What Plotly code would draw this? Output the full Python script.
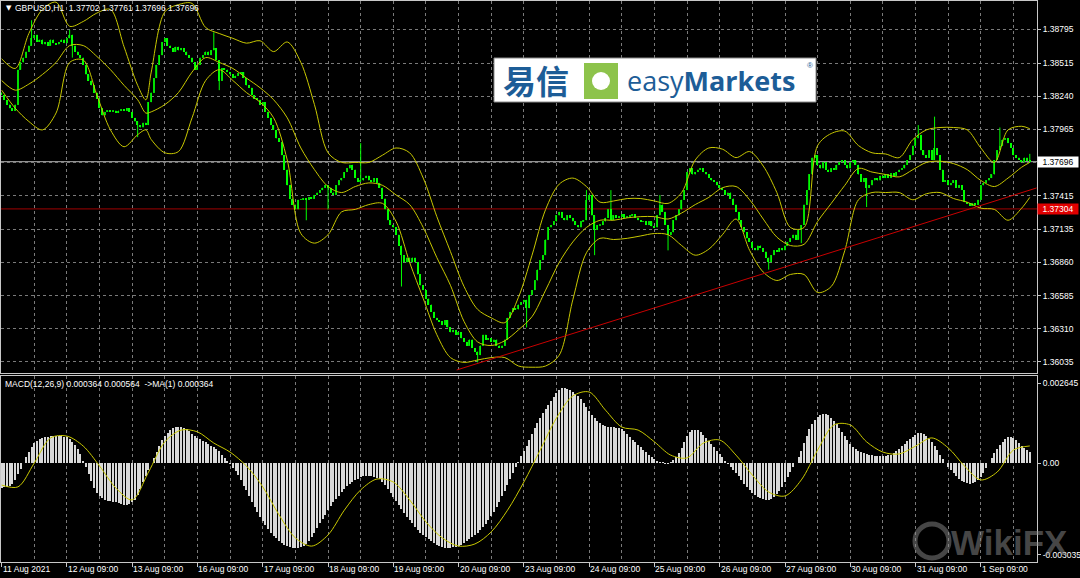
import plotly.graph_objects as go

# ---------------- data ----------------
symbol_title = "GBPUSD,H1  1.37702 1.37761 1.37696 1.37696"
macd_title = "MACD(12,26,9) 0.000364 0.000564  ->MA(1) 0.000364"

date_labels = ["11 Aug 2021", "12 Aug 09:00", "13 Aug 09:00", "16 Aug 09:00", "17 Aug 09:00",
               "18 Aug 09:00", "19 Aug 09:00", "20 Aug 09:00", "23 Aug 09:00", "24 Aug 09:00",
               "25 Aug 09:00", "26 Aug 09:00", "27 Aug 09:00", "30 Aug 09:00", "31 Aug 09:00",
               "1 Sep 09:00"]
label_bars = [0, 24, 48, 72, 96, 120, 144, 168, 192, 216, 240, 264, 288, 312, 336, 360]
half_day_bars = [12, 36, 60, 84, 108, 132, 156, 180, 204, 228, 252, 276, 300, 324, 348, 372]

first_open = 1.3827
closes = [
    1.3825, 1.3821, 1.3817, 1.3814, 1.3812, 1.3817, 1.3846, 1.3852, 1.3856, 1.3861,
    1.3866, 1.3872, 1.3875, 1.3869, 1.3871, 1.3867, 1.3869, 1.3866, 1.3871, 1.3868,
    1.3867, 1.3869, 1.3871, 1.3868, 1.3872, 1.3875, 1.3866, 1.3861, 1.3858, 1.3856,
    1.3850, 1.3842, 1.3837, 1.3833, 1.3827, 1.3822, 1.3814, 1.3808, 1.3811, 1.3812,
    1.3811, 1.3812, 1.3810, 1.3812, 1.3813, 1.3812, 1.3814, 1.3811, 1.3806, 1.3803,
    1.3800, 1.3798, 1.3802, 1.3800, 1.3819, 1.3827, 1.3839, 1.3850, 1.3858, 1.3869,
    1.3872, 1.3866, 1.3864, 1.3861, 1.3865, 1.3862, 1.3864, 1.3861, 1.3858, 1.3856,
    1.3852, 1.3846, 1.3850, 1.3856, 1.3858, 1.3861, 1.3858, 1.3862, 1.3864, 1.3854,
    1.3837, 1.3847, 1.3846, 1.3844, 1.3842, 1.3839, 1.3841, 1.3843, 1.3844, 1.3839,
    1.3833, 1.3831, 1.3825, 1.3822, 1.3821, 1.3817, 1.3819, 1.3811, 1.3806, 1.3800,
    1.3796, 1.3789, 1.3786, 1.3775, 1.3763, 1.3750, 1.3739, 1.3734, 1.3730, 1.3738,
    1.3738, 1.3739, 1.3738, 1.3740, 1.3739, 1.3742, 1.3744, 1.3746, 1.3748, 1.3750,
    1.3748, 1.3744, 1.3742, 1.3750, 1.3754, 1.3756, 1.3761, 1.3764, 1.3767, 1.3763,
    1.3756, 1.3753, 1.3754, 1.3756, 1.3758, 1.3754, 1.3753, 1.3756, 1.3752, 1.3748,
    1.3739, 1.3730, 1.3721, 1.3717, 1.3715, 1.3709, 1.3700, 1.3692, 1.3686, 1.3690,
    1.3686, 1.3690, 1.3686, 1.3676, 1.3667, 1.3663, 1.3656, 1.3651, 1.3645, 1.3640,
    1.3638, 1.3637, 1.3634, 1.3638, 1.3632, 1.3628, 1.3630, 1.3626, 1.3628, 1.3623,
    1.3620, 1.3617, 1.3622, 1.3615, 1.3612, 1.3609, 1.3617, 1.3626, 1.3622, 1.3623,
    1.3620, 1.3622, 1.3617, 1.3615, 1.3617, 1.3622, 1.3640, 1.3645, 1.3648, 1.3647,
    1.3651, 1.3653, 1.3655, 1.3648, 1.3659, 1.3663, 1.3671, 1.3680, 1.3688, 1.3692,
    1.3705, 1.3715, 1.3717, 1.3720, 1.3725, 1.3728, 1.3723, 1.3721, 1.3725, 1.3723,
    1.3720, 1.3717, 1.3715, 1.3720, 1.3721, 1.3738, 1.3742, 1.3725, 1.3713, 1.3717,
    1.3717, 1.3720, 1.3723, 1.3730, 1.3721, 1.3725, 1.3723, 1.3724, 1.3726, 1.3723,
    1.3724, 1.3725, 1.3726, 1.3723, 1.3721, 1.3720, 1.3720, 1.3717, 1.3720, 1.3716,
    1.3715, 1.3725, 1.3734, 1.3728, 1.3717, 1.3709, 1.3711, 1.3721, 1.3725, 1.3730,
    1.3738, 1.3746, 1.3761, 1.3764, 1.3759, 1.3761, 1.3763, 1.3764, 1.3761, 1.3759,
    1.3756, 1.3754, 1.3753, 1.3750, 1.3748, 1.3746, 1.3742, 1.3744, 1.3739, 1.3734,
    1.3728, 1.3721, 1.3715, 1.3711, 1.3706, 1.3703, 1.3698, 1.3696, 1.3700, 1.3698,
    1.3695, 1.3690, 1.3686, 1.3692, 1.3696, 1.3695, 1.3698, 1.3696, 1.3700, 1.3703,
    1.3706, 1.3709, 1.3705, 1.3713, 1.3717, 1.3734, 1.3746, 1.3759, 1.3773, 1.3775,
    1.3767, 1.3764, 1.3769, 1.3763, 1.3761, 1.3764, 1.3763, 1.3767, 1.3769, 1.3771,
    1.3767, 1.3764, 1.3769, 1.3771, 1.3767, 1.3759, 1.3753, 1.3756, 1.3748, 1.3750,
    1.3754, 1.3756, 1.3754, 1.3758, 1.3756, 1.3759, 1.3756, 1.3760, 1.3758, 1.3761,
    1.3763, 1.3764, 1.3767, 1.3771, 1.3775, 1.3783, 1.3789, 1.3792, 1.3779, 1.3775,
    1.3773, 1.3779, 1.3771, 1.3781, 1.3775, 1.3763, 1.3753, 1.3754, 1.3750, 1.3752,
    1.3754, 1.3748, 1.3750, 1.3746, 1.3736, 1.3735, 1.3733, 1.3735, 1.3734, 1.3738,
    1.3750, 1.3752, 1.3754, 1.3756, 1.3759, 1.3771, 1.3779, 1.3783, 1.3788, 1.3789,
    1.3785, 1.3781, 1.3775, 1.3773, 1.3771, 1.3769, 1.3773, 1.37702, 1.37696,
]
wick_high = {11: 1.3887, 25: 1.3879, 78: 1.3877, 132: 1.3785, 215: 1.3746, 224: 1.3746,
             242: 1.3742, 337: 1.3800, 343: 1.3807, 367: 1.3798, 378: 1.37761}
wick_low = {26: 1.3856, 50: 1.3790, 80: 1.3829, 112: 1.3721, 120: 1.3730, 147: 1.3666,
            175: 1.3603, 193: 1.3632, 218: 1.3692, 245: 1.3696, 282: 1.3680, 294: 1.3702,
            318: 1.3732}

band_bars = [0, 5, 10, 15, 20, 25, 30, 35, 40, 45, 50, 53, 55, 60, 65, 70, 75, 80, 85, 90,
             95, 100, 105, 110, 115, 120, 125, 130, 135, 140, 145, 150, 155, 160, 165, 170,
             175, 180, 185, 190, 195, 200, 205, 210, 215, 220, 225, 230, 235, 240, 245, 250,
             255, 260, 265, 270, 275, 280, 285, 290, 295, 300, 305, 310, 315, 320, 325, 330,
             335, 340, 345, 350, 355, 360, 365, 370, 375, 378]
bb_upper = [1.3855, 1.3847, 1.3876, 1.3896, 1.3902, 1.3882, 1.3886, 1.3893, 1.3896, 1.3865,
            1.3833, 1.3821, 1.3844, 1.3894, 1.3900, 1.3901, 1.3881, 1.3876, 1.3872, 1.3868,
            1.3870, 1.3861, 1.3869, 1.3852, 1.3817, 1.3777, 1.3769, 1.3769, 1.3769, 1.3775,
            1.3781, 1.3777, 1.3756, 1.3724, 1.3695, 1.3666, 1.3647, 1.3640, 1.3636, 1.3657,
            1.3692, 1.3730, 1.3751, 1.3756, 1.3749, 1.3736, 1.3737, 1.3739, 1.3739, 1.3737,
            1.3735, 1.3744, 1.3771, 1.3781, 1.3780, 1.3773, 1.3778, 1.3766, 1.3744, 1.3715,
            1.3715, 1.3783, 1.3793, 1.3795, 1.3783, 1.3777, 1.3776, 1.3773, 1.3788, 1.3796,
            1.3798, 1.3798, 1.3796, 1.3781, 1.3769, 1.3796, 1.3799, 1.3797]
bb_middle = [1.3837, 1.3829, 1.3834, 1.3842, 1.3852, 1.3866, 1.3866, 1.3857, 1.3846, 1.3833,
             1.3821, 1.3810, 1.3811, 1.3817, 1.3827, 1.3844, 1.3856, 1.3852, 1.3847, 1.3839,
             1.3831, 1.3821, 1.3806, 1.3781, 1.3763, 1.3749, 1.3744, 1.3749, 1.3752, 1.3750,
             1.3742, 1.3734, 1.3715, 1.3690, 1.3667, 1.3637, 1.3620, 1.3617, 1.3621, 1.3630,
             1.3641, 1.3663, 1.3686, 1.3703, 1.3715, 1.3721, 1.3721, 1.3723, 1.3724, 1.3724,
             1.3722, 1.3727, 1.3734, 1.3740, 1.3748, 1.3749, 1.3738, 1.3722, 1.3707, 1.3700,
             1.3701, 1.3720, 1.3735, 1.3750, 1.3764, 1.3761, 1.3759, 1.3757, 1.3763, 1.3769,
             1.3770, 1.3768, 1.3763, 1.3754, 1.3749, 1.3756, 1.3765, 1.3769]
bb_lower = [1.3829, 1.3814, 1.3803, 1.3796, 1.3810, 1.3852, 1.3854, 1.3825, 1.3796, 1.3782,
            1.3792, 1.3796, 1.3788, 1.3777, 1.3778, 1.3806, 1.3837, 1.3846, 1.3837, 1.3827,
            1.3819, 1.3806, 1.3771, 1.3710, 1.3702, 1.3709, 1.3728, 1.3730, 1.3734, 1.3735,
            1.3720, 1.3686, 1.3656, 1.3626, 1.3607, 1.3603, 1.3605, 1.3607, 1.3607, 1.3600,
            1.3599, 1.3600, 1.3609, 1.3655, 1.3694, 1.3706, 1.3705, 1.3706, 1.3708, 1.3710,
            1.3709, 1.3700, 1.3692, 1.3697, 1.3709, 1.3722, 1.3696, 1.3678, 1.3671, 1.3676,
            1.3676, 1.3661, 1.3666, 1.3696, 1.3738, 1.3744, 1.3744, 1.3744, 1.3738, 1.3743,
            1.3744, 1.3739, 1.3736, 1.3731, 1.3730, 1.3721, 1.3731, 1.3740]

macd_main = [
    -0.00083, -0.00079, -0.00079, -0.00076, -0.00070, -0.00056, -0.00036, -0.00020, 0.00000, 0.00020,
    0.00036, 0.00053, 0.00066, 0.00073, 0.00079, 0.00083, 0.00086, 0.00086, 0.00089, 0.00089,
    0.00089, 0.00089, 0.00089, 0.00086, 0.00086, 0.00079, 0.00070, 0.00060, 0.00046, 0.00030,
    0.00007, -0.00013, -0.00036, -0.00060, -0.00083, -0.00099, -0.00109, -0.00116, -0.00122, -0.00126,
    -0.00126, -0.00129, -0.00129, -0.00132, -0.00136, -0.00139, -0.00139, -0.00136, -0.00129, -0.00122,
    -0.00106, -0.00086, -0.00063, -0.00043, -0.00023, 0.00000, 0.00017, 0.00036, 0.00056, 0.00076,
    0.00089, 0.00099, 0.00109, 0.00116, 0.00119, 0.00119, 0.00119, 0.00116, 0.00113, 0.00106,
    0.00096, 0.00089, 0.00083, 0.00079, 0.00073, 0.00070, 0.00063, 0.00056, 0.00053, 0.00046,
    0.00040, 0.00026, 0.00017, 0.00007, -0.00003, -0.00017, -0.00026, -0.00040, -0.00056, -0.00076,
    -0.00089, -0.00109, -0.00129, -0.00146, -0.00162, -0.00179, -0.00192, -0.00205, -0.00218, -0.00232,
    -0.00242, -0.00248, -0.00258, -0.00265, -0.00271, -0.00275, -0.00278, -0.00281, -0.00281, -0.00281,
    -0.00278, -0.00275, -0.00268, -0.00258, -0.00245, -0.00232, -0.00215, -0.00199, -0.00185, -0.00172,
    -0.00156, -0.00142, -0.00129, -0.00119, -0.00109, -0.00096, -0.00086, -0.00076, -0.00070, -0.00063,
    -0.00056, -0.00053, -0.00046, -0.00043, -0.00043, -0.00043, -0.00043, -0.00046, -0.00050, -0.00053,
    -0.00063, -0.00073, -0.00086, -0.00099, -0.00113, -0.00126, -0.00139, -0.00152, -0.00166, -0.00179,
    -0.00189, -0.00199, -0.00212, -0.00222, -0.00232, -0.00238, -0.00245, -0.00252, -0.00258, -0.00265,
    -0.00271, -0.00275, -0.00278, -0.00281, -0.00281, -0.00281, -0.00278, -0.00278, -0.00275, -0.00271,
    -0.00265, -0.00258, -0.00252, -0.00245, -0.00238, -0.00232, -0.00222, -0.00212, -0.00202, -0.00189,
    -0.00175, -0.00162, -0.00146, -0.00129, -0.00109, -0.00093, -0.00073, -0.00053, -0.00033, -0.00013,
    0.00003, 0.00023, 0.00040, 0.00056, 0.00076, 0.00096, 0.00116, 0.00132, 0.00149, 0.00166,
    0.00179, 0.00192, 0.00205, 0.00218, 0.00232, 0.00242, 0.00248, 0.00248, 0.00245, 0.00242,
    0.00235, 0.00228, 0.00222, 0.00212, 0.00199, 0.00185, 0.00172, 0.00159, 0.00149, 0.00139,
    0.00132, 0.00126, 0.00122, 0.00119, 0.00119, 0.00119, 0.00116, 0.00116, 0.00113, 0.00106,
    0.00096, 0.00086, 0.00076, 0.00070, 0.00060, 0.00053, 0.00043, 0.00036, 0.00026, 0.00020,
    0.00013, 0.00007, 0.00003, 0.00001, -0.00001, -0.00001, 0.00003, 0.00010, 0.00020, 0.00033,
    0.00050, 0.00070, 0.00089, 0.00103, 0.00109, 0.00109, 0.00109, 0.00103, 0.00093, 0.00083,
    0.00073, 0.00063, 0.00053, 0.00040, 0.00030, 0.00020, 0.00007, -0.00003, -0.00013, -0.00023,
    -0.00033, -0.00043, -0.00056, -0.00070, -0.00079, -0.00089, -0.00099, -0.00106, -0.00113, -0.00116,
    -0.00119, -0.00122, -0.00122, -0.00119, -0.00113, -0.00103, -0.00093, -0.00079, -0.00063, -0.00046,
    -0.00030, -0.00013, 0.00000, 0.00020, 0.00040, 0.00066, 0.00089, 0.00113, 0.00129, 0.00142,
    0.00152, 0.00159, 0.00162, 0.00162, 0.00159, 0.00149, 0.00139, 0.00129, 0.00116, 0.00103,
    0.00089, 0.00076, 0.00063, 0.00053, 0.00046, 0.00040, 0.00036, 0.00033, 0.00030, 0.00026,
    0.00026, 0.00023, 0.00023, 0.00023, 0.00023, 0.00023, 0.00026, 0.00026, 0.00033, 0.00040,
    0.00046, 0.00056, 0.00063, 0.00073, 0.00079, 0.00086, 0.00093, 0.00099, 0.00099, 0.00096,
    0.00089, 0.00079, 0.00070, 0.00056, 0.00043, 0.00026, 0.00013, 0.00000, -0.00013, -0.00023,
    -0.00033, -0.00043, -0.00053, -0.00060, -0.00063, -0.00066, -0.00070, -0.00066, -0.00063, -0.00056,
    -0.00046, -0.00033, -0.00017, 0.00000, 0.00017, 0.00033, 0.00046, 0.00060, 0.00070, 0.00079,
    0.00086, 0.00086, 0.00083, 0.00076, 0.00066, 0.00056, 0.00050, 0.00043, 0.000364,
]
signal_bars = [0, 6, 12, 18, 24, 30, 36, 42, 48, 54, 60, 66, 72, 78, 84, 90, 96, 102, 108, 114,
               120, 126, 132, 138, 144, 150, 156, 162, 168, 174, 180, 186, 192, 198, 204, 210,
               216, 222, 228, 234, 240, 246, 252, 258, 264, 270, 276, 282, 288, 294, 300, 306,
               312, 318, 324, 330, 336, 342, 348, 354, 360, 366, 372, 378]
macd_signal = [
    -0.00073, -0.00079, 0.00000, 0.00083, 0.00089, 0.00056, -0.00010, -0.00083, -0.00122, -0.00030,
    0.00070, 0.00109, 0.00103, 0.00066, 0.00036, -0.00010, -0.00079, -0.00172, -0.00248, -0.00275,
    -0.00238, -0.00156, -0.00089, -0.00053, -0.00063, -0.00122, -0.00195, -0.00248, -0.00275, -0.00268,
    -0.00228, -0.00156, -0.00063, 0.00043, 0.00149, 0.00222, 0.00235, 0.00175, 0.00119, 0.00109,
    0.00070, 0.00026, 0.00017, 0.00066, 0.00076, 0.00026, -0.00040, -0.00096, -0.00109, -0.00056,
    0.00043, 0.00126, 0.00126, 0.00070, 0.00036, 0.00030, 0.00056, 0.00083, 0.00050, -0.00010,
    -0.00056, -0.00030, 0.00043, 0.000564,
]

price_ticks = [1.38795, 1.38515, 1.38240, 1.37965, 1.37690, 1.37415, 1.37135, 1.36860,
               1.36585, 1.36310, 1.36035]
price_tick_text = ["1.38795", "1.38515", "1.38240", "1.37965", "", "1.37415", "1.37135",
                   "1.36860", "1.36585", "1.36310", "1.36035"]
macd_ticks = [0.002645, 0.0, -0.003035]
macd_tick_text = ["0.002645", "0.00", "-0.003035"]

last_price = 1.37696
alert_level = 1.37304
trend_bars = [167.3, 380.5]
trend_prices = [1.35967, 1.37478]

# ---------------- derived OHLC ----------------
bars = list(range(len(closes)))
opens = [first_open] + closes[:-1]
highs = [max(o, c) for o, c in zip(opens, closes)]
lows = [min(o, c) for o, c in zip(opens, closes)]
for k, v in wick_high.items():
    highs[k] = max(highs[k], v)
for k, v in wick_low.items():
    lows[k] = min(lows[k], v)

body_base = [min(o, c) for o, c in zip(opens, closes)]
body_len = [max(abs(c - o), 0.000012) for o, c in zip(opens, closes)]
body_col = ["#00c000" if c >= o else "#00ff00" for o, c in zip(opens, closes)]
wick_x, wick_y = [], []
for b, lo, hi in zip(bars, lows, highs):
    wick_x += [b, b, None]
    wick_y += [lo, hi, None]

# ---------------- layout geometry ----------------
W, H = 1080, 578
ML, MR, MT, MB = 1, 43, 1, 16
PW, PH = W - ML - MR, H - MT - MB


def px(x):
    return (x - ML) / PW


def py(y):
    return (H - MB - y) / PH


GRID = "#7a7a7a"
FRAME = "#c8c8c8"
YEL = "#c8c800"
FONT = "Liberation Sans"

fig = go.Figure()
fig.add_trace(go.Scatter(x=wick_x, y=wick_y, mode="lines", line=dict(color="#00ff00", width=1),
                         xaxis="x", yaxis="y", showlegend=False, hoverinfo="skip"))
fig.add_trace(go.Bar(x=bars, y=body_len, base=body_base, width=0.55,
                     marker=dict(color=body_col, line=dict(width=0)),
                     xaxis="x", yaxis="y", showlegend=False, hoverinfo="skip"))
for band in (bb_upper, bb_middle, bb_lower):
    fig.add_trace(go.Scatter(x=band_bars, y=band, mode="lines",
                             line=dict(color=YEL, width=1, shape="spline", smoothing=0.9),
                             xaxis="x", yaxis="y", showlegend=False, hoverinfo="skip"))
fig.add_trace(go.Scatter(x=trend_bars, y=trend_prices, mode="lines",
                         line=dict(color="#c80000", width=1), xaxis="x", yaxis="y",
                         showlegend=False, hoverinfo="skip"))
fig.add_trace(go.Bar(x=bars, y=macd_main, width=0.42,
                     marker=dict(color="#d8d8d8", line=dict(width=0)),
                     xaxis="x2", yaxis="y2", showlegend=False, hoverinfo="skip"))
fig.add_trace(go.Scatter(x=signal_bars, y=macd_signal, mode="lines",
                         line=dict(color=YEL, width=1, shape="spline", smoothing=0.9),
                         xaxis="x2", yaxis="y2", showlegend=False, hoverinfo="skip"))

xrange_ = [-0.24, 380.65]
main_dom = [py(373), 1.0]
macd_dom = [0.0, py(376)]
main_range = [1.35942, 1.39030]
macd_range = [-0.003277, 0.0028797]

xcommon = dict(range=xrange_, tickmode="array", tickvals=label_bars, showgrid=True,
               gridcolor=GRID, griddash="dot", gridwidth=1, zeroline=False,
               showline=True, linecolor=FRAME, linewidth=1, mirror=True,
               minor=dict(tickmode="array", tickvals=half_day_bars, showgrid=True,
                          gridcolor=GRID, griddash="dot", gridwidth=1, ticks=""),
               fixedrange=True, automargin=False)

fig.update_layout(
    width=W, height=H, margin=dict(l=ML, r=MR, t=MT, b=MB, pad=0),
    paper_bgcolor="black", plot_bgcolor="black", showlegend=False, hovermode=False,
    bargap=0, barmode="overlay",
    xaxis=dict(**xcommon, anchor="y", showticklabels=False, ticks=""),
    xaxis2=dict(**xcommon, anchor="y2", matches="x", showticklabels=False,
                ticks="outside", ticklen=4, tickcolor=FRAME),
    yaxis=dict(domain=main_dom, range=main_range, side="right", tickmode="array",
               tickvals=price_ticks, ticktext=price_tick_text, showgrid=True,
               gridcolor=GRID, griddash="dot", zeroline=False, showline=True,
               linecolor=FRAME, mirror=True, ticks="outside", ticklen=3, tickcolor=FRAME,
               tickfont=dict(color="white", size=8.5, family=FONT), fixedrange=True,
               automargin=False),
    yaxis2=dict(domain=macd_dom, range=macd_range, side="right", tickmode="array",
                tickvals=macd_ticks, ticktext=macd_tick_text, showgrid=False,
                zeroline=False, showline=True, linecolor=FRAME, mirror=True,
                ticks="outside", ticklen=3, tickcolor=FRAME,
                tickfont=dict(color="white", size=8.5, family=FONT), fixedrange=True,
                automargin=False),
)

shapes = [
    dict(type="line", xref="paper", yref="y", x0=0, x1=1, y0=last_price, y1=last_price,
         line=dict(color="#b4b4b4", width=1), layer="below"),
    dict(type="line", xref="paper", yref="y", x0=0, x1=1, y0=alert_level, y1=alert_level,
         line=dict(color="#a00000", width=1), layer="below"),
    # logo
    dict(type="rect", xref="paper", yref="paper", x0=px(494), x1=px(816), y0=py(102), y1=py(58),
         fillcolor="white", line=dict(color="#8a8a8a", width=1)),
    dict(type="rect", xref="paper", yref="paper", x0=px(584), x1=px(618), y0=py(99), y1=py(63),
         fillcolor="#8dc34b", line=dict(width=0)),
    dict(type="circle", xref="paper", yref="paper", x0=px(592), x1=px(610), y0=py(90), y1=py(72),
         fillcolor="white", line=dict(width=0)),
    # watermark icon
    dict(type="circle", xref="paper", yref="paper", x0=px(915), x1=px(949), y0=py(558), y1=py(524),
         fillcolor="rgba(0,0,0,0)", line=dict(color="rgba(140,140,140,0.5)", width=5)),
]
fig.update_layout(shapes=shapes)

ann = []
for b, t in zip(label_bars, date_labels):
    ann.append(dict(x=b, xref="x2", y=py(569), yref="paper", text=t, showarrow=False,
                    xanchor="left", yanchor="middle", xshift=-1,
                    font=dict(color="white", size=8.5, family=FONT)))
ann += [
    dict(x=px(4), y=py(8), xref="paper", yref="paper", text="▼", showarrow=False,
         xanchor="left", yanchor="middle", font=dict(color="white", size=7, family="DejaVu Sans")),
    dict(x=px(13), y=py(8), xref="paper", yref="paper", text=symbol_title, showarrow=False,
         xanchor="left", yanchor="middle", font=dict(color="white", size=8.5, family=FONT)),
    dict(x=px(3), y=py(384), xref="paper", yref="paper", text=macd_title, showarrow=False,
         xanchor="left", yanchor="middle", font=dict(color="white", size=8.5, family=FONT)),
    dict(x=1.0, y=last_price, xref="paper", yref="y", text="1.37696", showarrow=False,
         xanchor="left", yanchor="middle", bgcolor="white", borderpad=0, width=40,
         font=dict(color="black", size=8.5, family=FONT)),
    dict(x=1.0, y=alert_level, xref="paper", yref="y", text="1.37304", showarrow=False,
         xanchor="left", yanchor="middle", bgcolor="#e00000", borderpad=0, width=40,
         font=dict(color="white", size=8.5, family=FONT)),
    # logo texts
    dict(x=px(536), y=py(80), xref="paper", yref="paper", text="<b>易信</b>", showarrow=False,
         xanchor="center", yanchor="middle",
         font=dict(color="#1d5d97", size=33, family="Noto Sans CJK SC")),
    dict(x=px(625), y=py(81), xref="paper", yref="paper", text="easy<b>Markets</b>",
         showarrow=False, xanchor="left", yanchor="middle",
         font=dict(color="#1d5d97", size=27, family="Open Sans")),
    dict(x=px(810), y=py(66), xref="paper", yref="paper", text="®", showarrow=False,
         xanchor="center", yanchor="middle", font=dict(color="#1d5d97", size=8, family=FONT)),
    # watermark
    dict(x=px(1009), y=py(542), xref="paper", yref="paper", text="<b>WikiFX</b>",
         showarrow=False, xanchor="center", yanchor="middle",
         font=dict(color="rgba(140,140,140,0.5)", size=35, family=FONT)),
]
fig.update_layout(annotations=ann)

fig.write_html("out.html", config={"displayModeBar": False},
               post_script="document.body.style.margin='0';document.body.style.overflow='hidden';")
